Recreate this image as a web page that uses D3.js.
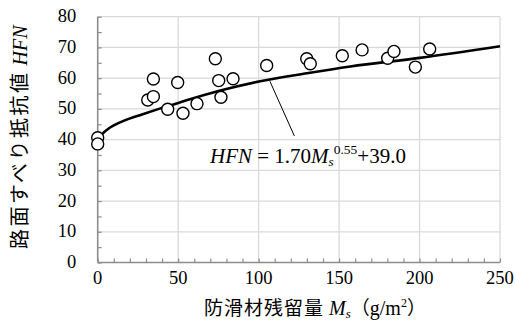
<!DOCTYPE html>
<html>
<head>
<meta charset="utf-8">
<script src="https://cdnjs.cloudflare.com/ajax/libs/d3/7.8.5/d3.min.js"></script>
<style>
  body { margin: 0; background: #fff; }
  svg { display: block; }
  .tick-label { font-family: 'Liberation Serif', 'Times New Roman', serif; font-size: 18.5px; fill: #000; }
</style>
</head>
<body>
<svg id="chart" width="515" height="332"></svg>
<script>
// measured points: residual amount Ms (g/m2) vs HFN
const msValues  = [0, 0, 31.1, 34.6, 34.6, 43.5, 49.7, 53.0, 61.7, 73.1, 75.2, 76.6, 84.1,
                   105.0, 129.9, 132.1, 152.0, 164.3, 180.2, 184.1, 197.4, 206.3];
const hfnValues = [40.6, 38.6, 52.9, 54.0, 59.7, 49.9, 58.6, 48.6, 51.7, 66.3, 59.2, 53.8, 59.8,
                   64.1, 66.3, 64.7, 67.3, 69.2, 66.5, 68.7, 63.6, 69.5];

// fitted curve
const fitX = [0, 1, 3, 6, 10, 17, 27.5, 38, 51, 75, 101, 130, 157, 200, 250];
const fitY = [39.0, 40.4, 41.9, 43.3, 44.6, 46.3, 48.2, 50.0, 52.1, 55.8, 59.0, 61.6, 63.8, 66.6, 70.4];

const xTicks = [0, 50, 100, 150, 200, 250];
const yTicks = [0, 10, 20, 30, 40, 50, 60, 70, 80];

const margin = { top: 16.7, right: 15, bottom: 69.5, left: 97.7 };
const W = 515, H = 332;
const width = W - margin.left - margin.right;
const height = H - margin.top - margin.bottom;

const svg = d3.select('#chart');
const g = svg.append('g').attr('transform', 'translate(' + margin.left + ',' + margin.top + ')');

const x = d3.scaleLinear().domain([0, 250]).range([0, width]);
const y = d3.scaleLinear().domain([0, 80]).range([height, 0]);

// gridlines
g.append('g').selectAll('line').data(xTicks.slice(1)).enter().append('line')
  .attr('x1', d => x(d)).attr('x2', d => x(d)).attr('y1', 0).attr('y2', height)
  .attr('stroke', '#d9d9d9').attr('stroke-width', 1.3);
g.append('g').selectAll('line').data(yTicks.slice(1)).enter().append('line')
  .attr('x1', 0).attr('x2', width).attr('y1', d => y(d)).attr('y2', d => y(d))
  .attr('stroke', '#d9d9d9').attr('stroke-width', 1.3);

// axes: lines with inward minor ticks
const axisColor = '#8c8c8c';
const xAxis = d3.axisBottom(x).tickValues(d3.range(0, 251, 10)).tickSize(-4).tickFormat('');
const yAxis = d3.axisLeft(y).tickValues(d3.range(0, 81, 5)).tickSize(-4).tickFormat('');
const gx = g.append('g').attr('transform', 'translate(0,' + height + ')').call(xAxis);
const gy = g.append('g').call(yAxis);
[gx, gy].forEach(a => {
  a.select('.domain').attr('stroke', axisColor).attr('stroke-width', 1.6).attr('d',
    a === gx ? 'M0,0H' + width : 'M0,0V' + height);
  a.selectAll('.tick line').attr('stroke', axisColor).attr('stroke-width', 1.2);
});

// tick labels
g.append('g').selectAll('text').data(xTicks).enter().append('text')
  .attr('class', 'tick-label').attr('x', d => x(d)).attr('y', height + 21.5)
  .attr('text-anchor', 'middle').text(d => d);
g.append('g').selectAll('text').data(yTicks).enter().append('text')
  .attr('class', 'tick-label').attr('x', -21.5).attr('y', d => y(d) + 5.5)
  .attr('text-anchor', 'end').text(d => d);

// fitted curve
const line = d3.line().x((d, i) => x(fitX[i])).y(d => y(d)).curve(d3.curveMonotoneX);
g.append('path').datum(fitY).attr('d', line)
  .attr('fill', 'none').attr('stroke', '#000').attr('stroke-width', 2.6);

// data points
g.append('g').selectAll('circle').data(msValues).enter().append('circle')
  .attr('cx', d => x(d)).attr('cy', (d, i) => y(hfnValues[i])).attr('r', 6)
  .attr('fill', '#fff').attr('stroke', '#000').attr('stroke-width', 1.4);

// leader line and equation label
const leader = [[107, 59.0], [122.2, 41.2]];
g.append('line')
  .attr('x1', x(leader[0][0])).attr('y1', y(leader[0][1]))
  .attr('x2', x(leader[1][0])).attr('y2', y(leader[1][1]))
  .attr('stroke', '#000').attr('stroke-width', 1);

const eq = g.append('text').attr('class', 'tick-label')
  .attr('x', x(69.8)).attr('y', y(32.4)).style('font-size', '21px');
eq.append('tspan').attr('font-style', 'italic').text('HFN');
eq.append('tspan').text(' = 1.70');
eq.append('tspan').attr('font-style', 'italic').text('M');
eq.append('tspan').attr('font-style', 'italic').attr('dy', 3.5).style('font-size', '13px').text('s');
eq.append('tspan').attr('dy', -12).style('font-size', '13.5px').text('0.55');
eq.append('tspan').attr('dy', 8.5).text('+39.0');

// axis titles
const cjk = "'Noto Sans CJK JP', 'Noto Sans', sans-serif";
const serif = "'Liberation Serif', 'Times New Roman', serif";
const xt = svg.append('text').attr('x', 204).attr('y', 315).style('font-size', '19px');
xt.append('tspan').style('font-family', cjk).style('letter-spacing', '1px').text('防滑材残留量');
xt.append('tspan').style('font-family', serif).style('font-style', 'italic').style('font-size', '20px').text(' M');
xt.append('tspan').style('font-family', serif).style('font-style', 'italic').style('font-size', '13px').attr('dy', 3).text('s');
xt.append('tspan').style('font-family', cjk).attr('dy', -3).text('（');
xt.append('tspan').style('font-family', serif).style('font-size', '20px').text('g/m');
xt.append('tspan').style('font-family', serif).style('font-size', '12px').attr('dy', -8).text('2');
xt.append('tspan').style('font-family', cjk).attr('dy', 8).text('）');

const yt = svg.append('text').attr('transform', 'translate(27,' + 249 + ') rotate(-90)')
  .style('font-size', '20px');
yt.append('tspan').style('font-family', cjk).style('letter-spacing', '2.5px').text('路面すべり抵抗値');
yt.append('tspan').style('font-family', serif).style('font-style', 'italic').text(' HFN');
</script>
</body>
</html>
